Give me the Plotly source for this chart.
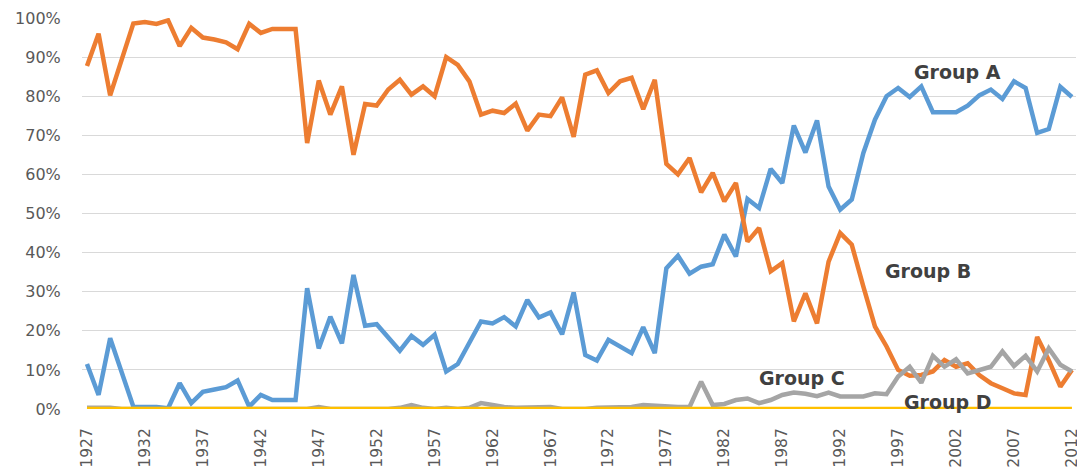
import plotly.graph_objects as go

years = list(range(1927, 2013))

group_a = [11.5, 3.6, 18.1, 9.1, 0.6, 0.5, 0.5, 0.2, 6.6, 1.5,
           4.4, 5.0, 5.6, 7.3, 0.6, 3.6, 2.3, 2.3, 2.3, 30.9,
           15.5, 23.6, 16.8, 34.3, 21.3, 21.7, 18.1, 14.9, 18.7, 16.4,
           19.0, 9.6, 11.5, 16.8, 22.4, 21.9, 23.5, 21.1, 27.9, 23.4,
           24.7, 19.1, 29.8, 13.8, 12.4, 17.7, 16.0, 14.3, 20.9, 14.3,
           36.0, 39.2, 34.6, 36.4, 37.0, 44.6, 39.0, 53.7, 51.4, 61.4,
           57.8, 72.5, 65.6, 73.8, 56.9, 51.0, 53.6, 65.5, 74.0, 80.0,
           82.1, 79.8, 82.5, 75.9, 75.9, 75.9, 77.6, 80.2, 81.7, 79.3,
           83.8, 82.1, 70.6, 71.6, 82.4, 79.8]

group_b = [87.7, 96.0, 80.2, 89.4, 98.6, 99.0, 98.5, 99.4, 92.8, 97.5,
           95.0, 94.5, 93.8, 92.0, 98.5, 96.2, 97.2, 97.2, 97.2, 68.0,
           84.0, 75.3, 82.5, 65.0, 78.0, 77.6, 81.7, 84.2, 80.4, 82.5,
           80.0, 90.0, 88.0, 83.8, 75.3, 76.3, 75.7, 78.1, 71.2, 75.3,
           74.9, 79.7, 69.6, 85.5, 86.6, 80.8, 83.8, 84.7, 76.7, 84.2,
           62.7, 60.0, 64.2, 55.4, 60.4, 53.1, 57.8, 42.8, 46.3, 35.2,
           37.3, 22.4, 29.6, 21.9, 37.7, 45.0, 42.0, 31.3, 21.1, 16.0,
           10.0, 8.5, 8.7, 9.6, 12.5, 10.8, 11.7, 8.7, 6.6, 5.3,
           4.0, 3.6, 18.4, 12.5, 5.7, 10.0]

group_c = [0.3, 0.3, 0.3, 0.0, 0.0, 0.0, 0.0, 0.0, 0.0, 0.0,
           0.0, 0.0, 0.0, 0.0, 0.0, 0.0, 0.0, 0.0, 0.0, 0.0,
           0.5, 0.0, 0.0, 0.0, 0.0, 0.0, 0.0, 0.3, 1.0, 0.3,
           0.0, 0.3, 0.0, 0.3, 1.5, 1.0, 0.5, 0.3, 0.3, 0.3,
           0.5, 0.0, 0.0, 0.0, 0.3, 0.3, 0.3, 0.5, 1.0, 0.8,
           0.8, 0.5, 0.5, 7.0, 1.0, 1.3, 2.3, 2.7, 1.5, 2.3,
           3.6, 4.2, 3.9, 3.3, 4.2, 3.2, 3.2, 3.2, 4.0, 3.8,
           8.3, 10.8, 6.7, 13.6, 10.8, 12.7, 9.1, 10.0, 10.8, 14.7,
           11.0, 13.6, 9.6, 15.5, 11.3, 9.6]

group_d = [0.0] * len(years)

series = [
    ("Group A", group_a, "#5B9BD5"),
    ("Group B", group_b, "#ED7D31"),
    ("Group C", group_c, "#A5A5A5"),
    ("Group D", group_d, "#FFC000"),
]

tick_years = list(range(1927, 2013, 5))
tick_text = [str(y) for y in tick_years]

labels = [
    ("Group A", 2002.1, 86.3),
    ("Group B", 1999.6, 35.2),
    ("Group C", 1988.7, 7.9),
    ("Group D", 2001.3, 1.9),
]

fig = go.Figure()
for name, vals, color in series:
    fig.add_trace(go.Scatter(
        x=years, y=[v / 100 for v in vals], mode="lines", name=name,
        line=dict(color=color, width=4.5), showlegend=False,
    ))

for text, lx, ly in labels:
    fig.add_annotation(
        x=lx, y=ly / 100, xref="x", yref="y", text="<b>" + text + "</b>",
        showarrow=False,
        font=dict(family="DejaVu Sans", size=19, color="#404040"),
    )

fig.update_layout(
    width=1077, height=459,
    margin=dict(l=74, r=9, t=10, b=58),
    paper_bgcolor="white", plot_bgcolor="white",
    xaxis=dict(
        range=[1926.57, 2012.35], tickmode="array", tickvals=tick_years,
        ticktext=tick_text, tickangle=-90, showgrid=False, zeroline=False,
        showline=False, ticks="outside", ticklen=12, automargin=False,
        tickcolor="rgba(0,0,0,0)",
        tickfont=dict(family="DejaVu Sans", size=15.5, color="#595959"),
    ),
    yaxis=dict(
        range=[0, 1], dtick=0.1, tickformat=".0%", showgrid=True,
        gridcolor="#d9d9d9", gridwidth=1.3, zeroline=False, showline=False,
        ticks="outside", ticklen=17, tickcolor="rgba(0,0,0,0)",
        automargin=False,
        tickfont=dict(family="DejaVu Sans", size=16, color="#595959"),
    ),
)

fig.write_html("out.html")
